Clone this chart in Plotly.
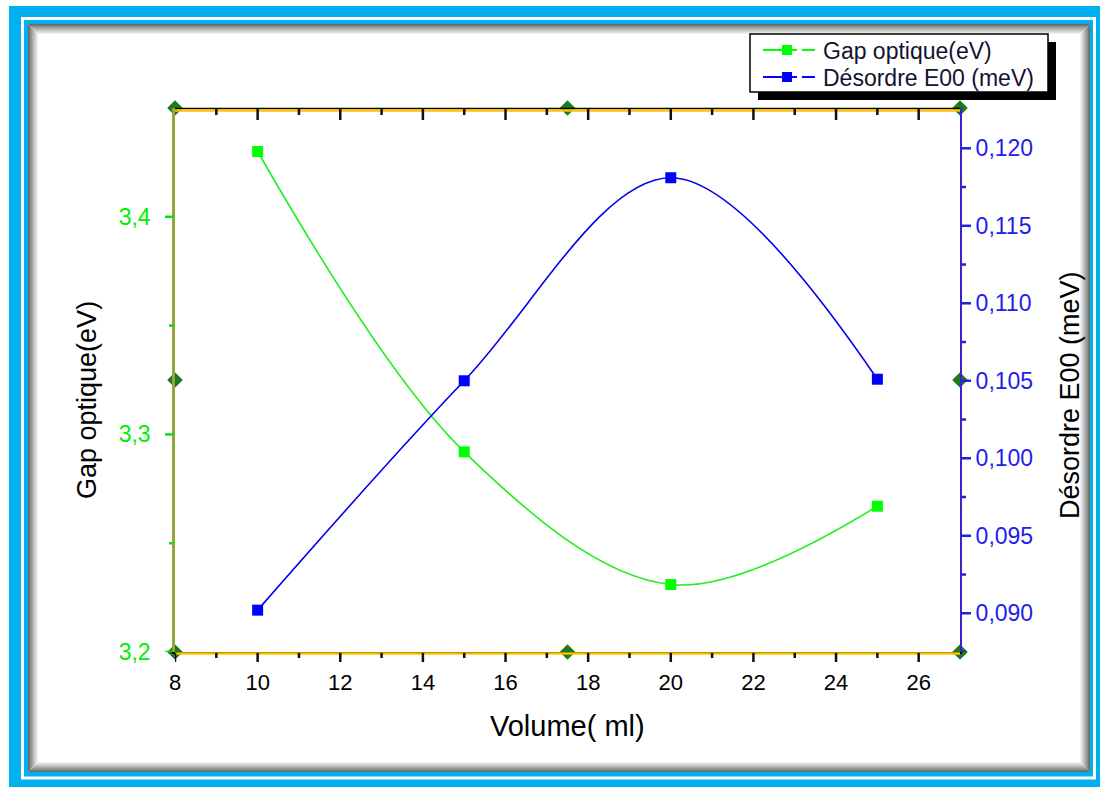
import plotly.graph_objects as go

# Data: optical gap and disorder energy versus solution volume
volume_ml = [10, 15, 20, 25]
gap_optique_ev = [3.430, 3.292, 3.231, 3.267]
desordre_e00_mev = [0.0902, 0.1050, 0.1181, 0.1051]

x_range = [8, 27]
gap_range = [3.2, 3.45]
e00_range = [0.0875, 0.1226]

x_major = [8, 10, 12, 14, 16, 18, 20, 22, 24, 26]
x_minor = [9, 11, 13, 15, 17, 19, 21, 23, 25]
gap_major = [3.2, 3.3, 3.4]
gap_minor = [3.25, 3.35]
e00_major = [0.090, 0.095, 0.100, 0.105, 0.110, 0.115, 0.120]
e00_minor = [0.0875, 0.0925, 0.0975, 0.1025, 0.1075, 0.1125, 0.1175]

series_names = ["Gap optique(eV)", "Désordre E00 (meV)"]
series_colors = ["#00FF00", "#0000FF"]

W, H = 1100, 787
L, R, T, B = 175, 140, 108, 135
FONT = "Arial, Liberation Sans, sans-serif"


def fx(px):
    return (px - L) / (W - L - R)


def fy(py):
    return (H - B - py) / (H - T - B)


fig = go.Figure()

fig.add_trace(go.Scatter(
    x=volume_ml, y=gap_optique_ev, name=series_names[0],
    mode="lines+markers",
    line=dict(color="#22EE22", width=1.6, shape="spline", smoothing=1),
    marker=dict(symbol="square", size=11, color=series_colors[0]),
    yaxis="y", cliponaxis=False, showlegend=False,
))
fig.add_trace(go.Scatter(
    x=volume_ml, y=desordre_e00_mev, name=series_names[1],
    mode="lines+markers",
    line=dict(color="#0000EE", width=1.6, shape="spline", smoothing=1),
    marker=dict(symbol="square", size=11, color=series_colors[1]),
    yaxis="y2", cliponaxis=False, showlegend=False,
))

# Layer selection handles on the frame corners and edge midpoints
xm = (x_range[0] + x_range[1]) / 2
ym = (gap_range[0] + gap_range[1]) / 2
hx = [x_range[0], xm, x_range[1], x_range[0], x_range[1], x_range[0], xm, x_range[1]]
hy = [gap_range[1], gap_range[1], gap_range[1], ym, ym, gap_range[0], gap_range[0], gap_range[0]]
fig.add_trace(go.Scatter(
    x=hx, y=hy, mode="markers", showlegend=False,
    hoverinfo="skip", cliponaxis=False,
    marker=dict(symbol="diamond", size=12, color="#1E7A1E",
                line=dict(color="#1E7A1E", width=0)),
))

shapes = []
# Outer cyan frame with white inner stripe
shapes.append(dict(type="rect", xref="paper", yref="paper", layer="below",
                   x0=fx(9), x1=fx(1115), y0=fy(6), y1=fy(800),
                   fillcolor="#00B0F0", line=dict(width=0)))
shapes.append(dict(type="rect", xref="paper", yref="paper", layer="below",
                   x0=fx(22.5), x1=fx(1094.5), y0=fy(18.5), y1=fy(778),
                   fillcolor="rgba(0,0,0,0)", line=dict(color="white", width=3)))
# White panel with inset shading
shapes.append(dict(type="rect", xref="paper", yref="paper", layer="below",
                   x0=fx(28), x1=fx(1090), y0=fy(24), y1=fy(772),
                   fillcolor="white", line=dict(width=0)))
n = 11
for k in range(n):
    g = int(105 + 150 * (k / (n - 1)) ** 0.9)
    c = "rgb(%d,%d,%d)" % (g, g, g)
    d = k + 0.5
    shapes.append(dict(type="rect", xref="paper", yref="paper", layer="below",
                       x0=fx(28 + d), x1=fx(1090 - d), y0=fy(24 + d), y1=fy(772 - d),
                       fillcolor="rgba(0,0,0,0)", line=dict(color=c, width=1)))

# Top frame edge: black rule and orange rule
shapes.append(dict(type="line", xref="paper", yref="paper", layer="above",
                   x0=0, x1=1, y0=fy(108.5), y1=fy(108.5),
                   line=dict(color="black", width=1.5)))
shapes.append(dict(type="line", xref="paper", yref="paper", layer="above",
                   x0=0, x1=1, y0=fy(110.5), y1=fy(110.5),
                   line=dict(color="#FFC000", width=2.5)))
# Orange rule along the bottom edge
shapes.append(dict(type="line", xref="paper", yref="paper", layer="above",
                   x0=0, x1=1, y0=fy(653.5), y1=fy(653.5),
                   line=dict(color="#FFC000", width=2.5)))


def xtick(v, p0, p1, color="#111111"):
    shapes.append(dict(type="line", xref="x", yref="paper", layer="above",
                       x0=v, x1=v, y0=fy(p0), y1=fy(p1),
                       line=dict(color=color, width=2.5)))


def ytick(v, ref, p0, p1, color):
    shapes.append(dict(type="line", xref="paper", yref=ref, layer="above",
                       x0=fx(p0), x1=fx(p1), y0=v, y1=v,
                       line=dict(color=color, width=2.5)))


# Bottom ticks point outward, top ticks point into the frame
for v in x_major:
    xtick(v, 653, 662)
    if v > x_range[0]:
        xtick(v, 109, 120)
for v in x_minor:
    xtick(v, 653, 658)
    xtick(v, 109, 115)
# Left (gap) and right (E00) ticks point outward
for v in gap_major:
    ytick(v, "y", 174, 165, "#11DD11")
for v in gap_minor:
    ytick(v, "y", 174, 169, "#11DD11")
for v in e00_major:
    ytick(v, "y2", 961, 971, "#2020DD")
for v in e00_minor:
    ytick(v, "y2", 961, 966, "#2020DD")

# Legend box with drop shadow
LX0, LX1, LY0, LY1 = 750, 1048, 34, 92
shapes.append(dict(type="rect", xref="paper", yref="paper", layer="above",
                   x0=fx(LX0 + 8), x1=fx(LX1 + 8), y0=fy(LY0 + 8), y1=fy(LY1 + 8),
                   fillcolor="black", line=dict(width=0)))
shapes.append(dict(type="rect", xref="paper", yref="paper", layer="above",
                   x0=fx(LX0), x1=fx(LX1), y0=fy(LY0), y1=fy(LY1),
                   fillcolor="white", line=dict(color="black", width=1.5)))

annotations = []
for i, (name, col) in enumerate(zip(series_names, series_colors)):
    yc = 50 + 27 * i
    for a, b in [(763, 797), (802, 815)]:
        shapes.append(dict(type="line", xref="paper", yref="paper", layer="above",
                           x0=fx(a), x1=fx(b), y0=fy(yc), y1=fy(yc),
                           line=dict(color=col, width=2)))
    shapes.append(dict(type="rect", xref="paper", yref="paper", layer="above",
                       x0=fx(782), x1=fx(792), y0=fy(yc - 5), y1=fy(yc + 5),
                       fillcolor=col, line=dict(width=0)))
    annotations.append(dict(text=name, x=fx(821), y=fy(yc + 1), xref="paper", yref="paper",
                            xanchor="left", yanchor="middle", showarrow=False,
                            font=dict(family=FONT, size=23, color="#121232")))

annotations += [
    dict(text="Gap optique(eV)", x=fx(87), y=fy(400), xref="paper", yref="paper",
         xanchor="center", yanchor="middle",
         showarrow=False, textangle=-90, font=dict(family=FONT, size=27, color="black")),
    dict(text="Désordre E00 (meV)", x=fx(1070), y=fy(395), xref="paper", yref="paper",
         xanchor="center", yanchor="middle",
         showarrow=False, textangle=-90, font=dict(family=FONT, size=27, color="black")),
    dict(text="Volume( ml)", x=fx(567), y=fy(726), xref="paper", yref="paper",
         xanchor="center", yanchor="middle",
         showarrow=False, font=dict(family=FONT, size=29, color="black")),
]

fig.update_layout(
    width=W, height=H,
    margin=dict(l=L, r=R, t=T, b=B, pad=0),
    paper_bgcolor="white", plot_bgcolor="rgba(0,0,0,0)",
    separators=", ",
    font=dict(family=FONT),
    showlegend=False,
    xaxis=dict(range=x_range, tickvals=x_major, showgrid=False, zeroline=False,
               showline=True, linecolor="black", linewidth=1.5,
               ticks="", ticklabelstandoff=10,
               tickfont=dict(family=FONT, size=22, color="black")),
    yaxis=dict(range=gap_range, tickvals=gap_major, tickformat=".1f",
               showgrid=False, zeroline=False,
               showline=True, linecolor="#95A53C", linewidth=2.5,
               ticks="", ticklabelstandoff=17,
               tickfont=dict(family=FONT, size=23, color="#00EE00")),
    yaxis2=dict(range=e00_range, overlaying="y", side="right", anchor="x",
                tickvals=e00_major, tickformat=".3f",
                showgrid=False, zeroline=False,
                showline=True, linecolor="#3A22CC", linewidth=2,
                ticks="", ticklabelstandoff=9,
                tickfont=dict(family=FONT, size=23, color="#2020EE")),
    shapes=shapes,
    annotations=annotations,
)

fig.write_html("out.html")
